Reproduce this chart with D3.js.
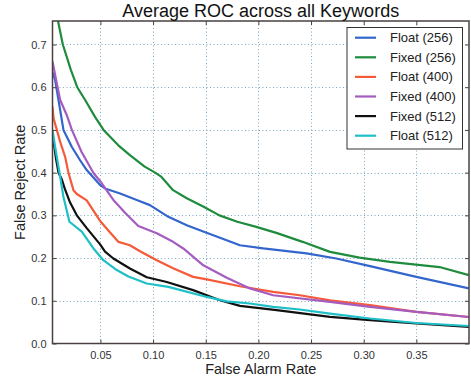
<!DOCTYPE html>
<html><head><meta charset="utf-8">
<script src="https://cdn.jsdelivr.net/npm/d3@7"></script>
<style>html,body{margin:0;padding:0;background:#fff;}svg{display:block;font-family:"Liberation Sans",Arial,sans-serif;}</style>
</head><body>
<svg id="chart" width="471" height="381"></svg>
<script>
const seriesNames = ["Float (256)", "Fixed (256)", "Float (400)", "Fixed (400)", "Fixed (512)", "Float (512)"];
const seriesColors = ["#3366cc", "#1e8c3c", "#f55a3a", "#a55cc0", "#111111", "#1fbfc8"];
const xTicks = [0.05, 0.10, 0.15, 0.20, 0.25, 0.30, 0.35];
const yTicks = [0.0, 0.1, 0.2, 0.3, 0.4, 0.5, 0.6, 0.7];

const float256 = [[0.0045,0.635],[0.007,0.617],[0.0102,0.57],[0.0149,0.50],[0.0229,0.46],[0.0307,0.429],[0.037,0.406],[0.0497,0.371],[0.0544,0.363],[0.0687,0.351],[0.0845,0.336],[0.097,0.324],[0.1145,0.2965],[0.132,0.277],[0.1445,0.265],[0.1825,0.230],[0.2046,0.2225],[0.2457,0.211],[0.274,0.199],[0.306,0.181],[0.35,0.156],[0.40,0.129]];
const fixed256 = [[0.0085,0.77],[0.0143,0.70],[0.022,0.64],[0.028,0.60],[0.0355,0.57],[0.045,0.53],[0.053,0.50],[0.067,0.464],[0.078,0.441],[0.092,0.414],[0.102,0.40],[0.108,0.39],[0.119,0.359],[0.132,0.34],[0.148,0.32],[0.163,0.30],[0.18,0.285],[0.198,0.273],[0.217,0.259],[0.242,0.238],[0.268,0.2145],[0.296,0.201],[0.325,0.191],[0.372,0.179],[0.40,0.16]];
const float400 = [[0.0045,0.555],[0.0055,0.527],[0.0086,0.50],[0.0118,0.472],[0.0165,0.437],[0.0196,0.40],[0.0244,0.359],[0.0276,0.350],[0.037,0.335],[0.0497,0.287],[0.0592,0.26],[0.067,0.238],[0.078,0.230],[0.0876,0.216],[0.1035,0.195],[0.119,0.176],[0.138,0.156],[0.151,0.150],[0.1825,0.134],[0.214,0.121],[0.2394,0.113],[0.268,0.101],[0.306,0.0897],[0.35,0.074],[0.40,0.062]];
const fixed400 = [[0.0045,0.66],[0.0086,0.609],[0.0118,0.57],[0.018,0.535],[0.0229,0.50],[0.032,0.449],[0.0434,0.399],[0.0513,0.375],[0.0623,0.336],[0.0734,0.306],[0.086,0.275],[0.1035,0.258],[0.119,0.238],[0.1287,0.2225],[0.1477,0.183],[0.17,0.154],[0.192,0.129],[0.214,0.113],[0.268,0.0975],[0.306,0.0857],[0.35,0.074],[0.40,0.062]];
const fixed512 = [[0.0045,0.49],[0.008,0.43],[0.0102,0.40],[0.0134,0.384],[0.0165,0.36],[0.0212,0.33],[0.0276,0.30],[0.037,0.27],[0.0497,0.232],[0.0544,0.215],[0.0623,0.199],[0.078,0.1756],[0.094,0.155],[0.113,0.144],[0.138,0.125],[0.1635,0.1014],[0.1825,0.088],[0.2173,0.078],[0.268,0.0623],[0.306,0.0546],[0.35,0.0468],[0.40,0.039]];
const float512 = [[0.0045,0.50],[0.007,0.46],[0.0086,0.437],[0.0118,0.39],[0.0149,0.343],[0.0206,0.285],[0.0323,0.262],[0.0434,0.2225],[0.0528,0.195],[0.0655,0.172],[0.0766,0.157],[0.094,0.1405],[0.1145,0.1326],[0.151,0.109],[0.17,0.0985],[0.192,0.0937],[0.214,0.0857],[0.2394,0.0796],[0.268,0.070],[0.306,0.0585],[0.35,0.048],[0.40,0.041]];
const seriesData = [float256, fixed256, float400, fixed400, fixed512, float512];

const svg = d3.select("#chart");
const L = 52.5, R = 469, T = 21, B = 343.5;
const x = d3.scaleLinear().domain([0.0045, 0.4]).range([L, R]);
const y = d3.scaleLinear().domain([0, 0.755]).range([B, T]);

svg.append("defs").append("clipPath").attr("id","clip")
  .append("rect").attr("x",L).attr("y",T).attr("width",R-L).attr("height",B-T);

// grid
const grid = svg.append("g").attr("stroke","#7aa7c4").attr("stroke-width",1).attr("stroke-dasharray","1,2.5");
xTicks.forEach(t => grid.append("line").attr("x1",Math.round(x(t))+0.5).attr("x2",Math.round(x(t))+0.5).attr("y1",T).attr("y2",B));
yTicks.filter(t=>t>0).forEach(t => grid.append("line").attr("y1",Math.round(y(t))+0.5).attr("y2",Math.round(y(t))+0.5).attr("x1",L).attr("x2",R));

// lines
const line = d3.line().x(d=>x(d[0])).y(d=>y(d[1]));
const lg = svg.append("g").attr("clip-path","url(#clip)");
seriesData.forEach((s,i)=>{
  lg.append("path").datum(s).attr("d",line).attr("fill","none")
    .attr("stroke",seriesColors[i]).attr("stroke-width",2.2).attr("stroke-linejoin","round");
});

// axes (inward ticks)
const xb = d3.axisBottom(x).tickValues(xTicks).tickFormat(d3.format(".2f")).tickSizeInner(-4).tickSizeOuter(0).tickPadding(8);
const yl = d3.axisLeft(y).tickValues(yTicks).tickFormat(d3.format(".1f")).tickSizeInner(-4).tickSizeOuter(0).tickPadding(6);
const xt = d3.axisTop(x).tickValues(xTicks).tickFormat("").tickSizeInner(-4).tickSizeOuter(0);
const yr = d3.axisRight(y).tickValues(yTicks).tickFormat("").tickSizeInner(-4).tickSizeOuter(0);
[[xb,`translate(0,${B})`],[yl,`translate(${L},0)`],[xt,`translate(0,${T})`],[yr,`translate(${R},0)`]].forEach(([a,tr])=>{
  const g = svg.append("g").attr("transform",tr).call(a);
  g.select(".domain").remove();
  g.selectAll(".tick line").attr("stroke","#444");
  g.selectAll("text").attr("font-size",11).attr("fill","#333").attr("font-family","Liberation Sans, Arial, sans-serif");
});
svg.append("rect").attr("x",L).attr("y",T).attr("width",R-L).attr("height",B-T)
  .attr("fill","none").attr("stroke","#4a4040").attr("stroke-width",1.5);

// title & labels
svg.append("text").attr("x",(L+R)/2).attr("y",17).attr("text-anchor","middle")
  .attr("font-size",18).attr("fill","#111").text("Average ROC across all Keywords");
svg.append("text").attr("x",(L+R)/2).attr("y",374).attr("text-anchor","middle")
  .attr("font-size",14.5).attr("fill","#222").text("False Alarm Rate");
svg.append("text").attr("transform",`translate(25,${(T+B)/2}) rotate(-90)`).attr("text-anchor","middle")
  .attr("font-size",14.5).attr("fill","#222").text("False Reject Rate");

// legend
const lgX = 347, lgY = 27.5, lgW = 115.5, lgH = 121.5;
svg.append("rect").attr("x",lgX).attr("y",lgY).attr("width",lgW).attr("height",lgH)
  .attr("fill","#fff").attr("stroke","#333").attr("stroke-width",1);
seriesNames.forEach((n,i)=>{
  const yy = 37.7 + i*19.6;
  svg.append("line").attr("x1",355).attr("x2",376).attr("y1",yy).attr("y2",yy)
    .attr("stroke",seriesColors[i]).attr("stroke-width",2.2);
  svg.append("text").attr("x",390).attr("y",yy+4.5).attr("font-size",13).attr("fill","#222").text(n);
});
</script>
</body></html>
